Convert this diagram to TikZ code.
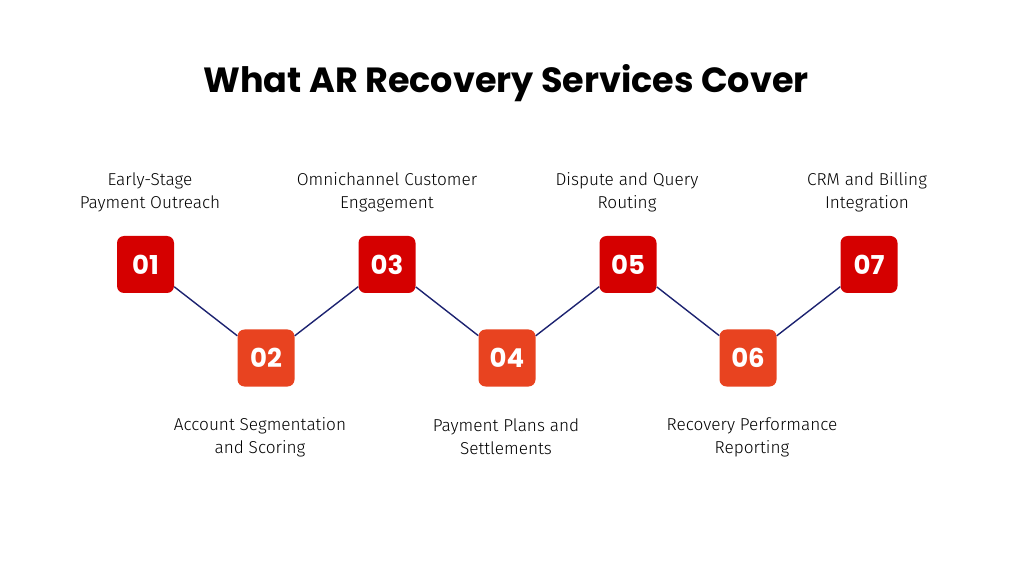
\documentclass[tikz,border=0pt]{standalone}
\usepackage{fontspec}
\setmainfont{Fira Sans Light}
\newfontfamily\numfont{Poppins Bold}
\usepackage{tikz}
\definecolor{oddred}{HTML}{D50000}
\definecolor{evenred}{HTML}{E84320}
\definecolor{navy}{HTML}{1C2270}
\tikzset{
  stepbox/.style={rectangle,rounded corners=7pt,minimum size=57pt,inner sep=0pt,
    text=white,font=\numfont\fontsize{26}{26}\selectfont},
  steptext/.style={align=center,font=\fontsize{17.2}{23}\selectfont}
}
\begin{document}
\begin{tikzpicture}[x=1pt,y=-1pt]
\useasboundingbox (0,0) rectangle (1012,569);
\node [font=\numfont\fontsize{35}{35}\selectfont] (title) at (506,83) {What AR Recovery Services Cover};
\node [stepbox,fill=oddred] (s1) at (145.5,264.5) {01};
\node [stepbox,fill=evenred] (s2) at (266,358) {02};
\node [stepbox,fill=oddred] (s3) at (387,264.5) {03};
\node [stepbox,fill=evenred] (s4) at (507,358) {04};
\node [stepbox,fill=oddred] (s5) at (628,264.5) {05};
\node [stepbox,fill=evenred] (s6) at (748,358) {06};
\node [stepbox,fill=oddred] (s7) at (869,264.5) {07};
\draw [navy,line width=1.4pt] (s1)--(s2)--(s3)--(s4)--(s5)--(s6)--(s7);
% labels
\node [steptext] (l1) at (150,192) {Early-Stage\\Payment Outreach};
\node [steptext] (l3) at (387,192) {Omnichannel Customer\\Engagement};
\node [steptext] (l5) at (627,192) {Dispute and Query\\Routing};
\node [steptext] (l7) at (867,192) {CRM and Billing\\Integration};
\node [steptext] (l2) at (260,437) {Account Segmentation\\and Scoring};
\node [steptext] (l4) at (506,437) {Payment Plans and\\Settlements};
\node [steptext] (l6) at (752,437) {Recovery Performance\\Reporting};
\end{tikzpicture}
\end{document}
